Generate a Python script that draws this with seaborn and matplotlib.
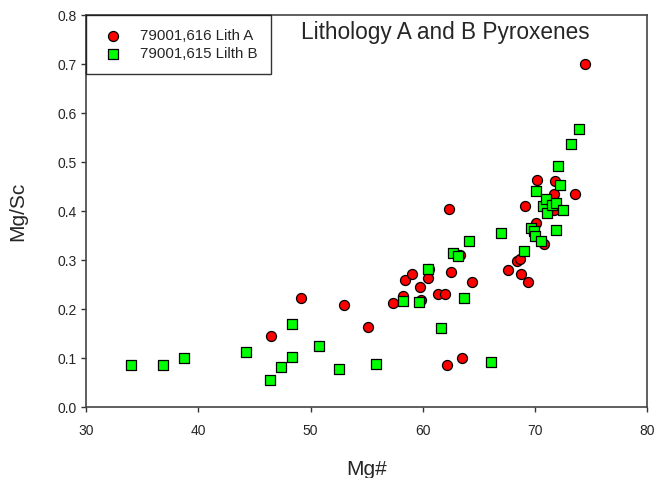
import matplotlib
matplotlib.use("Agg")
import matplotlib.pyplot as plt
import seaborn as sns
import pandas as pd

# ---- data ----
lith_a_mg = [46.43, 49.14, 52.94, 55.11, 57.31, 58.20, 58.40, 59.03, 59.80, 59.89,
             60.43, 60.54, 61.32, 62.00, 62.12, 62.33, 62.48, 63.31, 63.51, 64.38,
             67.61, 68.41, 68.65, 68.72, 69.16, 69.37, 70.14, 70.23, 70.82, 71.71,
             71.71, 71.82, 73.60, 74.45]
lith_a_mgsc = [0.146, 0.224, 0.209, 0.164, 0.214, 0.227, 0.261, 0.272, 0.245, 0.219,
               0.264, 0.282, 0.231, 0.232, 0.086, 0.405, 0.276, 0.311, 0.100, 0.256,
               0.281, 0.298, 0.302, 0.272, 0.410, 0.257, 0.377, 0.465, 0.333, 0.435,
               0.403, 0.461, 0.435, 0.700]

lith_b_mg = [33.98, 36.81, 38.73, 44.26, 46.40, 47.38, 48.36, 48.36, 50.71, 52.58,
             55.79, 58.25, 59.65, 60.48, 61.61, 62.71, 63.16, 63.69, 64.11, 66.10,
             66.95, 69.04, 69.61, 69.93, 70.05, 70.53, 70.08, 70.73, 71.03, 71.09,
             71.53, 71.92, 72.46, 71.89, 72.25, 72.10, 73.26, 73.94]
lith_b_mgsc = [0.087, 0.086, 0.100, 0.113, 0.057, 0.083, 0.102, 0.170, 0.125, 0.079,
               0.089, 0.217, 0.215, 0.282, 0.162, 0.315, 0.309, 0.223, 0.340, 0.092,
               0.355, 0.319, 0.367, 0.359, 0.350, 0.340, 0.441, 0.411, 0.426, 0.397,
               0.414, 0.418, 0.403, 0.363, 0.454, 0.493, 0.537, 0.569]

series_names = ["79001,616 Lith A", "79001,615 Lilth B"]
title = "Lithology A and B Pyroxenes"
x_ticks = [30, 40, 50, 60, 70, 80]
y_ticks = [0.0, 0.1, 0.2, 0.3, 0.4, 0.5, 0.6, 0.7, 0.8]

df_a = pd.DataFrame({"Mg#": lith_a_mg, "Mg/Sc": lith_a_mgsc})
df_b = pd.DataFrame({"Mg#": lith_b_mg, "Mg/Sc": lith_b_mgsc})

sns.set_style("white")
plt.rcParams["font.family"] = ["Liberation Sans", "DejaVu Sans"]

fig = plt.figure(figsize=(6.63, 4.78), dpi=100)
ax = fig.add_axes([0.130, 0.1475, 0.846, 0.8205])

sns.scatterplot(data=df_a, x="Mg#", y="Mg/Sc", color="#ff0000", marker="o",
                s=52, edgecolor="black", linewidth=0.9, ax=ax,
                label=series_names[0], zorder=3)
sns.scatterplot(data=df_b, x="Mg#", y="Mg/Sc", color="#00ff00", marker="s",
                s=44, edgecolor="black", linewidth=0.9, ax=ax,
                label=series_names[1], zorder=4)

ax.set_xlim(30, 80)
ax.set_ylim(0, 0.8)
ax.set_xticks(x_ticks)
ax.set_yticks(y_ticks)
ax.set_yticklabels([f"{v:.1f}" for v in y_ticks])
ax.tick_params(axis="both", direction="out", length=3.6, width=1, color="#333333",
               labelsize=10, bottom=True, left=True, top=False, right=False)
ax.tick_params(axis="x", pad=8)
ax.tick_params(axis="y", pad=3)
for sp in ax.spines.values():
    sp.set_color("#444444")
    sp.set_linewidth(1.2)

ax.set_xlabel("Mg#", fontsize=15, labelpad=16)
ax.set_ylabel("Mg/Sc", fontsize=15, labelpad=22)
ax.text(0.641, 0.955, title, transform=ax.transAxes, ha="center", va="center",
        fontsize=16.3)

handles, labels = ax.get_legend_handles_labels()
leg = ax.legend(handles, labels, loc="upper left", bbox_to_anchor=(0, 1),
                borderaxespad=0, frameon=True, fancybox=False, fontsize=10.8,
                handletextpad=0.9, borderpad=0.9, labelspacing=0.25,
                handlelength=1.8, markerscale=1.0)
leg.get_frame().set_edgecolor("black")
leg.get_frame().set_linewidth(1.0)

fig.savefig("out.png", dpi=100)
